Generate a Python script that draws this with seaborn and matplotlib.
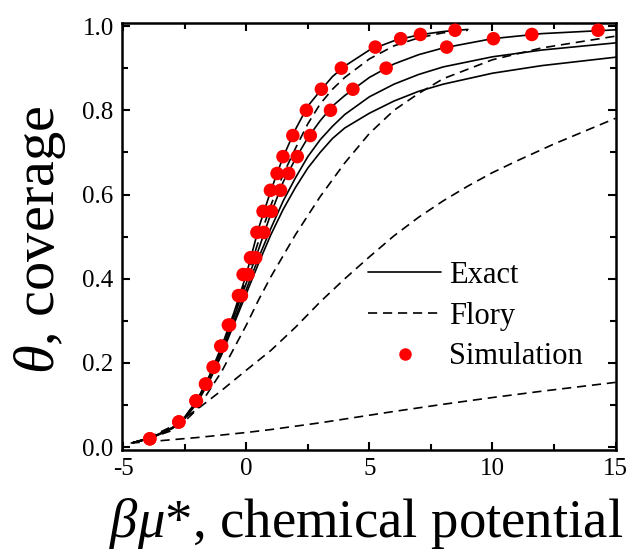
import numpy as np
import pandas as pd
import matplotlib
matplotlib.use("Agg")
import matplotlib.pyplot as plt
from matplotlib.lines import Line2D
import seaborn as sns

# ---------------- data ----------------
# Simulation points: two series sharing the same coverage values
sim_theta = [0.02, 0.06, 0.11, 0.15, 0.19, 0.24, 0.29, 0.36, 0.41, 0.45, 0.51, 0.56,
             0.61, 0.65, 0.69, 0.74, 0.80, 0.85, 0.90, 0.95, 0.97, 0.98, 0.99]
sim_mu_a = [-3.92, -2.74, -2.05, -1.66, -1.35, -1.04, -0.73, -0.32, -0.13, 0.17, 0.43, 0.68,
            0.98, 1.25, 1.49, 1.89, 2.44, 3.05, 3.86, 5.24, 6.27, 7.07, 8.48]
sim_mu_b = [-3.92, -2.74, -2.03, -1.64, -1.32, -1.00, -0.68, -0.20, 0.07, 0.38, 0.71, 1.02,
            1.39, 1.72, 2.07, 2.60, 3.42, 4.33, 5.68, 8.14, 10.04, 11.60, 14.29]

# Exact curves (solid)
ex1_mu = [-4.6, -3.9, -3.0, -2.5, -2.0, -1.5, -1.0, -0.5, 0.0, 0.5, 1.0, 1.5, 2.0, 2.5,
          3.0, 3.5, 4.0, 5.0, 6.0, 7.0, 8.0, 9.0]
ex1_th = [0.011, 0.022, 0.047, 0.072, 0.112, 0.17, 0.24, 0.32, 0.41, 0.52, 0.61, 0.69, 0.755, 0.81,
          0.846, 0.88, 0.905, 0.943, 0.965, 0.979, 0.987, 0.992]
ex2_mu = [-4.6, -3.9, -3.0, -2.5, -2.0, -1.5, -1.0, -0.5, 0.0, 0.5, 1.0, 1.5, 2.0, 2.5,
          3.0, 3.5, 4.0, 5.0, 6.0, 7.0, 8.0, 10.0, 12.0, 15.0]
ex2_th = [0.011, 0.021, 0.046, 0.07, 0.11, 0.165, 0.233, 0.31, 0.39, 0.47, 0.555, 0.63, 0.685, 0.735,
          0.775, 0.81, 0.835, 0.878, 0.91, 0.932, 0.948, 0.97, 0.982, 0.991]
ex3_mu = [-4.6, -3.9, -3.0, -2.5, -2.0, -1.5, -1.0, -0.5, 0.0, 0.5, 1.0, 1.5, 2.0, 2.5,
          3.0, 3.5, 4.0, 5.0, 6.0, 7.0, 8.0, 10.0, 12.0, 15.0]
ex3_th = [0.011, 0.021, 0.045, 0.069, 0.107, 0.16, 0.225, 0.30, 0.375, 0.45, 0.52, 0.585, 0.64, 0.69,
          0.73, 0.762, 0.79, 0.832, 0.862, 0.885, 0.903, 0.927, 0.943, 0.96]
ex4_mu = [-4.6, -3.9, -3.0, -2.5, -2.0, -1.5, -1.0, -0.5, 0.0, 0.5, 1.0, 1.5, 2.0, 2.5,
          3.0, 3.5, 4.0, 5.0, 6.0, 7.0, 8.0, 10.0, 12.0, 15.0]
ex4_th = [0.011, 0.021, 0.045, 0.068, 0.105, 0.157, 0.22, 0.293, 0.365, 0.437, 0.505, 0.565, 0.617, 0.663,
          0.70, 0.733, 0.758, 0.793, 0.822, 0.845, 0.862, 0.888, 0.906, 0.926]

# Flory curves (dashed)
fl1_mu = [-4.6, -3.9, -3.0, -2.5, -2.0, -1.5, -1.0, -0.5, 0.0, 0.5, 1.0, 1.5, 2.0, 2.5,
          3.0, 3.5, 4.0, 5.0, 6.0, 7.0, 8.0, 9.0]
fl1_th = [0.011, 0.021, 0.046, 0.071, 0.111, 0.167, 0.236, 0.315, 0.40, 0.49, 0.575, 0.648, 0.71, 0.768,
          0.815, 0.85, 0.878, 0.922, 0.953, 0.972, 0.984, 0.99]
fl2_mu = [-4.6, -4.0, -3.0, -2.5, -2.0, -1.5, -1.0, -0.5, 0.0, 0.5, 1.0, 1.5, 2.0, 3.0,
          4.0, 5.0, 6.0, 7.0, 8.0, 10.0, 12.0, 15.0]
fl2_th = [0.011, 0.02, 0.04, 0.062, 0.09, 0.135, 0.18, 0.235, 0.29, 0.35, 0.405, 0.455, 0.505, 0.595,
          0.675, 0.745, 0.80, 0.84, 0.875, 0.92, 0.948, 0.976]
fl3_mu = [-4.6, -4.0, -3.0, -2.0, -1.0, 0.0, 1.0, 2.0, 3.0, 4.0, 5.0, 6.0, 7.0, 8.0, 9.0, 10.0,
          11.0, 12.5, 15.0]
fl3_th = [0.011, 0.022, 0.05, 0.09, 0.135, 0.183, 0.23, 0.285, 0.345, 0.40, 0.452, 0.502, 0.546, 0.585,
          0.62, 0.652, 0.68, 0.72, 0.781]
fl4_mu = [-4.7, -4.0, -3.0, -2.0, -1.0, 0.0, 1.0, 2.0, 3.0, 4.0, 5.0, 6.0, 8.0, 10.0, 12.0, 15.0]
fl4_th = [0.01, 0.013, 0.018, 0.023, 0.029, 0.035, 0.042, 0.05, 0.058, 0.067, 0.076, 0.085, 0.102,
          0.118, 0.133, 0.154]

x_ticks = [-5, 0, 5, 10, 15]
y_ticks = [0.0, 0.2, 0.4, 0.6, 0.8, 1.0]
y_tick_labels = ["0.0", "0.2", "0.4", "0.6", "0.8", "1.0"]

# ---------------- style ----------------
sns.set_style("ticks")
plt.rcParams["font.family"] = ["Liberation Serif", "DejaVu Serif"]
plt.rcParams["mathtext.fontset"] = "custom"
plt.rcParams["mathtext.rm"] = "Liberation Serif"
plt.rcParams["mathtext.it"] = "Liberation Serif:italic"
plt.rcParams["mathtext.bf"] = "Liberation Serif:bold"
for k in ["text.color", "axes.labelcolor", "xtick.color", "ytick.color", "axes.edgecolor"]:
    plt.rcParams[k] = "black"

fig = plt.figure(figsize=(6.27, 5.53), dpi=100)
ax = fig.add_axes([0.1946, 0.1863, 0.7879, 0.7727])

lw = 1.2
dash = (5.5, 3.5)

def curve_df(mu, th):
    return pd.DataFrame({"mu": mu, "theta": th})

for mu, th in [(ex1_mu, ex1_th), (ex2_mu, ex2_th), (ex3_mu, ex3_th), (ex4_mu, ex4_th)]:
    sns.lineplot(data=curve_df(mu, th), x="mu", y="theta", ax=ax, color="black",
                 lw=lw, sort=False, estimator=None)
for mu, th in [(fl1_mu, fl1_th), (fl2_mu, fl2_th), (fl3_mu, fl3_th), (fl4_mu, fl4_th)]:
    sns.lineplot(data=curve_df(mu, th), x="mu", y="theta", ax=ax, color="black",
                 lw=lw, sort=False, estimator=None, dashes=False, linestyle=(0, dash))

sim = pd.DataFrame({"mu": sim_mu_a + sim_mu_b, "theta": sim_theta + sim_theta})
sns.scatterplot(data=sim, x="mu", y="theta", ax=ax, color="red", s=95,
                edgecolor="none", zorder=5)

ax.set_xlim(-5.05, 15.02)
ax.set_ylim(-0.0065, 1.008)
ax.set_xticks(x_ticks)
ax.set_xticklabels([str(t) for t in x_ticks])
ax.set_yticks(y_ticks)
ax.set_yticklabels(y_tick_labels)
ax.set_xticks([-2.5, 2.5, 7.5, 12.5], minor=True)
ax.set_yticks([0.1, 0.3, 0.5, 0.7, 0.9], minor=True)

for s in ax.spines.values():
    s.set_linewidth(1.8)
    s.set_color("black")
ax.tick_params(which="both", direction="in", top=True, right=True, color="black")
ax.tick_params(which="major", length=6, width=1.5, labelsize=18, pad=6)
ax.tick_params(which="minor", length=4, width=1.5)

ax.set_xlabel(r"$\beta\mu$*, chemical potential", fontsize=39.4)
ax.xaxis.set_label_coords(0.494, -0.108)
ax.xaxis.label.set_va("top")
ax.set_ylabel(r"$\theta$, coverage", fontsize=42)
ax.yaxis.set_label_coords(-0.109, 0.491)
ax.yaxis.label.set_va("bottom")

handles = [Line2D([], [], color="black", lw=lw),
           Line2D([], [], color="black", lw=lw, linestyle=(0, dash)),
           Line2D([], [], color="red", marker="o", ms=9, lw=0, markeredgewidth=0)]
ax.legend(handles, ["Exact", "Flory", "Simulation"], loc="center left",
          bbox_to_anchor=(0.498, 0.313), frameon=False, fontsize=22,
          handlelength=2.4, handletextpad=0.25, labelspacing=0.38, borderpad=0,
          borderaxespad=0)

fig.savefig("out.png", dpi=100)
